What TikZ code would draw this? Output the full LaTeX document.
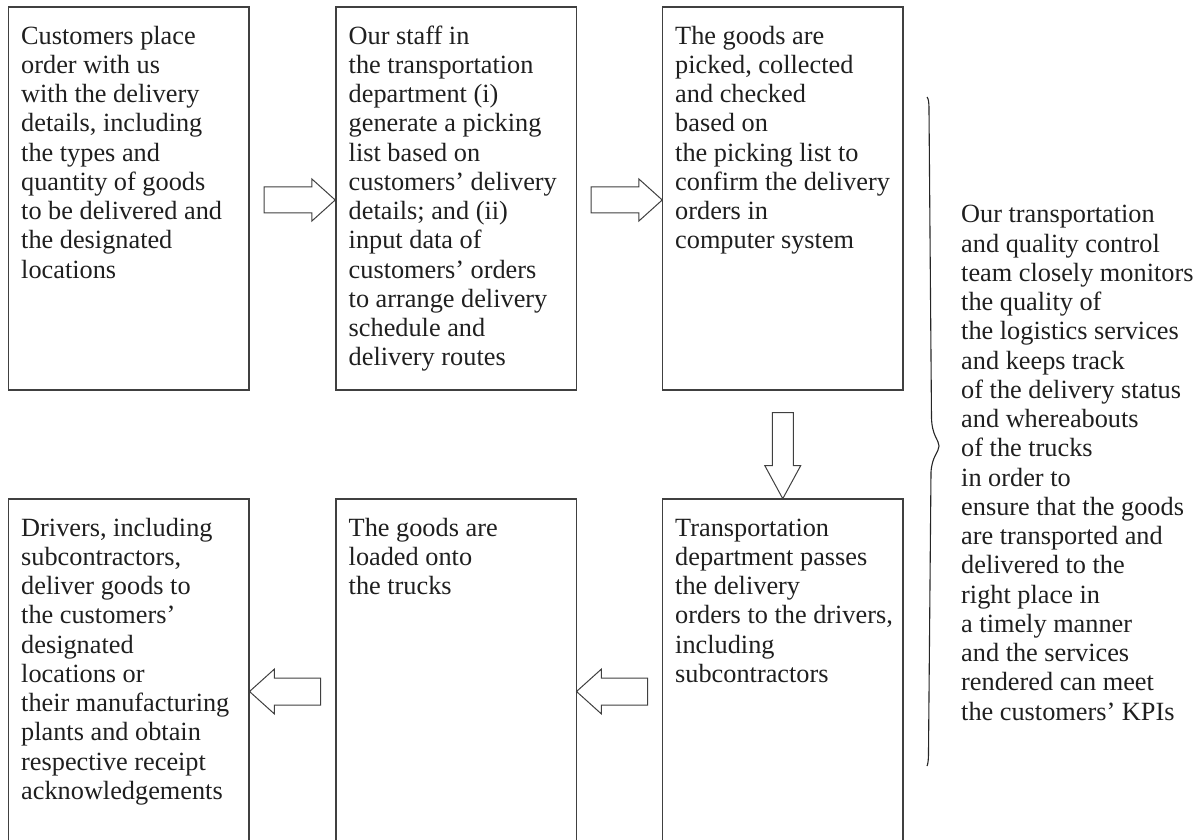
\documentclass[tikz,border=0pt]{standalone}
\usepackage{fontspec}
\setmainfont{Liberation Serif}
\usetikzlibrary{shapes.arrows,calc}
\begin{document}
\begin{tikzpicture}[x=1pt,y=-1pt,
  box/.style={draw=black!75, line width=1.2pt, anchor=north west, minimum width=240.5pt, inner sep=0pt, outer sep=0pt},
  topbox/.style={box, minimum height=383pt},
  botbox/.style={box, minimum height=342pt},
  txt/.style={anchor=north west, inner sep=0pt, align=left, font=\fontsize{26.3}{29.25}\selectfont, text=black!88},
  harrow/.style={single arrow, draw=black!75, line width=1pt, fill=white, minimum height=71pt, inner sep=12.5pt, single arrow head extend=8pt, single arrow tip angle=84},
  varrow/.style={single arrow, draw=black!75, line width=1pt, fill=white, minimum height=86pt, inner sep=10pt, single arrow head extend=7.5pt, single arrow tip angle=57, shape border rotate=270},
  bracepath/.style={draw=black!85, line width=1.1pt}
]
\useasboundingbox (0,0) rectangle (1203,840);
% boxes
\node[topbox] (b1) at (8.5,7) {};
\node[topbox] (b2) at (336,7) {};
\node[topbox] (b3) at (662.5,7) {};
\node[botbox] (b4) at (8.5,499) {};
\node[botbox] (b5) at (336,499) {};
\node[botbox] (b6) at (662.5,499) {};
% texts
\node[txt] (t1) at ($(b1.north west)+(12.5,16.5)$) {\strut Customers place\\order with us\\with the delivery\\details, including\\the types and\\quantity of goods\\to be delivered and\\the designated\\locations};
\node[txt] (t2) at ($(b2.north west)+(12.5,16.5)$) {\strut Our staff in\\the transportation\\department (i)\\generate a picking\\list based on\\customers’ delivery\\details; and (ii)\\input data of\\customers’ orders\\to arrange delivery\\schedule and\\delivery routes};
\node[txt] (t3) at ($(b3.north west)+(12.5,16.5)$) {\strut The goods are\\picked, collected\\and checked\\based on\\the picking list to\\confirm the delivery\\orders in\\computer system};
\node[txt] (t4) at ($(b4.north west)+(12.5,16.5)$) {\strut Drivers, including\\subcontractors,\\deliver goods to\\the customers’\\designated\\locations or\\their manufacturing\\plants and obtain\\respective receipt\\acknowledgements};
\node[txt] (t5) at ($(b5.north west)+(12.5,16.5)$) {\strut The goods are\\loaded onto\\the trucks};
\node[txt] (t6) at ($(b6.north west)+(12.5,16.5)$) {\strut Transportation\\department passes\\the delivery\\orders to the drivers,\\including\\subcontractors};
\node[txt] (t7) at (961,202.3) {\strut Our transportation\\and quality control\\team closely monitors\\the quality of\\the logistics services\\and keeps track\\of the delivery status\\and whereabouts\\of the trucks\\in order to\\ensure that the goods\\are transported and\\delivered to the\\right place in\\a timely manner\\and the services\\rendered can meet\\the customers’ KPIs};
% block arrows
\node[harrow] (a1) at ($(b1.east)!0.5!(b2.west)+(0,1.5)$) {};
\node[harrow] (a2) at ($(b2.east)!0.5!(b3.west)+(0,1.5)$) {};
\node[varrow] (a3) at ($(b3.south)!0.5!(b6.north)+(0,1.5)$) {};
\node[harrow, shape border rotate=180, inner sep=13pt, single arrow head extend=9pt] (a4) at ($(b4.east)!0.5!(b5.west)+(0,21.5)$) {};
\node[harrow, shape border rotate=180, inner sep=13pt, single arrow head extend=9pt] (a5) at ($(b5.east)!0.5!(b6.west)+(0,21.5)$) {};
% brace
\draw[bracepath] (927,97) .. controls (928.5,99) and (929,102) .. (929,110)
  -- (931.5,418) .. controls (932,436) and (939,440) .. (939,446)
  .. controls (939,452) and (932,456) .. (931,472)
  -- (928.5,752) .. controls (928.5,760) and (928,764) .. (927,766);
\end{tikzpicture}
\end{document}
